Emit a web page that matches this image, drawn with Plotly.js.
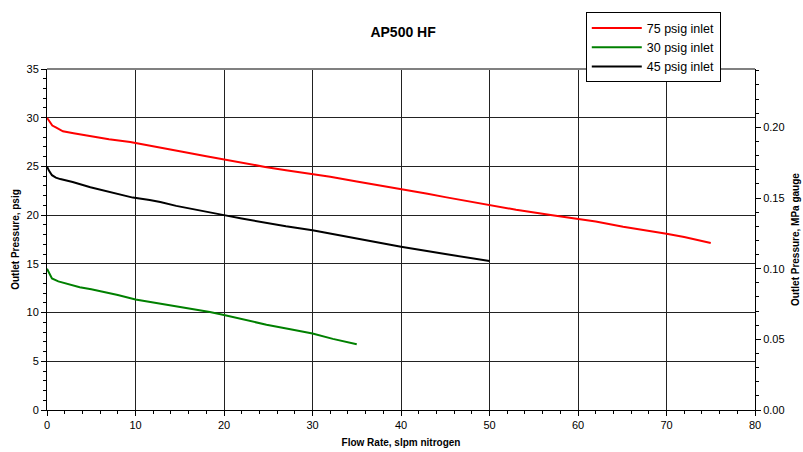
<!DOCTYPE html>
<html>
<head>
<meta charset="utf-8">
<script src="https://cdn.plot.ly/plotly-3.0.1.min.js"></script>
<style>html,body{margin:0;padding:0;background:#fff;}#chart{width:803px;height:452px;}</style>
</head>
<body>
<div id="chart"></div>
<script>
const chartTitle = "AP500 HF";
const xTitle = "Flow Rate, slpm nitrogen";
const yTitle = "Outlet Pressure, psig";
const y2Title = "Outlet Pressure, MPa gauge";
const psiToMPa = 0.00689476;

const seriesNames = ["75 psig inlet", "30 psig inlet", "45 psig inlet"];

const red75X = [0,0.3,0.6,1,1.8,3,4.9,7,9.4,11.6,12.8,15,18,20,22,24.65,27,30,32,35,38,40,43,45,48.8,50,53,57.1,60,62,65.1,67,70,72,75];
const red75Y = [30,29.6,29.2,29.0,28.6,28.4,28.1,27.8,27.5,27.15,26.95,26.55,26.05,25.7,25.35,24.95,24.6,24.25,23.95,23.45,23.0,22.68,22.2,21.85,21.2,21.0,20.55,20.0,19.6,19.35,18.8,18.55,18.1,17.75,17.15];

const green30X = [0,0.2,0.56,1.28,2,3.7,5,6.7,8,10,12.4,15,16.9,18.4,20,22.2,24.8,27.5,30,32.3,35];
const green30Y = [14.5,14.1,13.5,13.2,13.0,12.6,12.4,12.1,11.8,11.35,11.0,10.6,10.3,10.05,9.75,9.3,8.75,8.28,7.85,7.3,6.75];

const black45X = [0,0.2,0.56,1,1.5,2.9,4.9,6.8,9.7,11.6,12.8,14.6,17,20,22,24.8,27,30,32,35,40,45,50];
const black45Y = [25.0,24.6,24.1,23.85,23.7,23.4,22.86,22.45,21.8,21.55,21.35,20.95,20.5,20.0,19.65,19.2,18.85,18.45,18.1,17.65,16.75,16.0,15.3];

const xRange = [0, 80];
const yRange = [0, 35];

const traces = [
  {x: red75X, y: red75Y, name: seriesNames[0], mode: "lines", line: {color: "#ff0000", width: 2}},
  {x: green30X, y: green30Y, name: seriesNames[1], mode: "lines", line: {color: "#008000", width: 2}},
  {x: black45X, y: black45Y, name: seriesNames[2], mode: "lines", line: {color: "#000000", width: 2}},
  {x: [0], y: [0], yaxis: "y2", mode: "markers", marker: {opacity: 0}, showlegend: false, hoverinfo: "skip"}
];

const tickFont = {family: "Arial, Liberation Sans, sans-serif", size: 11, color: "#000"};
const boldFont = {family: "Arial, Liberation Sans, sans-serif", size: 10, color: "#000", weight: "bold"};

const layout = {
  width: 803, height: 452,
  margin: {l: 47, r: 48, t: 67, b: 42},
  paper_bgcolor: "#fff", plot_bgcolor: "#fff",
  showlegend: true,
  title: {text: "<b>" + chartTitle + "</b>", x: 0.502, xanchor: "center", y: 0.93, yanchor: "middle",
          font: {family: "Arial, Liberation Sans, sans-serif", size: 14, color: "#000"}},
  xaxis: {
    range: xRange, dtick: 10, tick0: 0, ticks: "outside", ticklen: 5, tickcolor: "#000",
    showline: true, linecolor: "#000", linewidth: 1, zeroline: false,
    showgrid: true, gridcolor: "#222", gridwidth: 1,
    minor: {dtick: 2, ticks: "outside", ticklen: 3, tickcolor: "#000", showgrid: false},
    tickfont: tickFont,
    title: {text: "<b>" + xTitle + "</b>", font: boldFont, standoff: 8}
  },
  yaxis: {
    range: yRange, dtick: 5, tick0: 0, ticks: "outside", ticklen: 5, tickcolor: "#000",
    showline: true, linecolor: "#000", linewidth: 1, zeroline: false,
    showgrid: true, gridcolor: "#222", gridwidth: 1,
    minor: {dtick: 1, ticks: "outside", ticklen: 3, tickcolor: "#000", showgrid: false},
    tickfont: tickFont,
    title: {text: "<b>" + yTitle + "</b>", font: boldFont, standoff: 5}
  },
  yaxis2: {
    overlaying: "y", side: "right",
    range: [yRange[0] * psiToMPa, yRange[1] * psiToMPa], dtick: 0.05, tick0: 0, tickformat: ".2f",
    ticks: "outside", ticklen: 5, tickcolor: "#000",
    showline: true, linecolor: "#000", linewidth: 1, zeroline: false, showgrid: false,
    minor: {dtick: 0.01, ticks: "outside", ticklen: 3, tickcolor: "#000", showgrid: false},
    tickfont: tickFont,
    title: {text: "<b>" + y2Title + "</b>", font: boldFont, standoff: 8}
  },
  legend: {
    x: 0.761, y: 1.166, xanchor: "left", yanchor: "top",
    bgcolor: "#fff", bordercolor: "#000", borderwidth: 1,
    font: {family: "Arial, Liberation Sans, sans-serif", size: 12.5, color: "#000"},
    itemwidth: 50, tracegroupgap: 0
  },
  shapes: [
    {type: "line", xref: "paper", yref: "paper", x0: 0, x1: 1, y0: 1, y1: 1, line: {color: "#808080", width: 2}}
  ]
};

Plotly.newPlot("chart", traces, layout, {displayModeBar: false, staticPlot: true});
</script>
</body>
</html>
